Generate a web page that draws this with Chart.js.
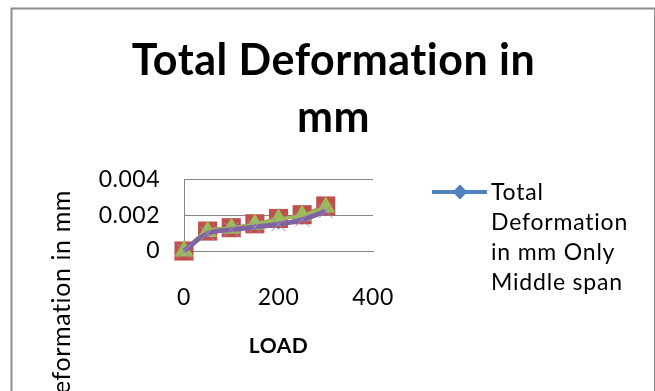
<!DOCTYPE html>
<html>
<head>
<meta charset="utf-8">
<script src="https://cdn.jsdelivr.net/npm/chart.js@4/dist/chart.umd.min.js"></script>
<style>
  html, body { margin: 0; padding: 0; background: #ffffff; overflow: hidden; }
  #c { display: block; }
</style>
</head>
<body>
<canvas id="c" width="655" height="391"></canvas>
<script>
// Load steps (x) and deformation readings (mm) for each span case
const loads = [0, 50, 100, 150, 200, 250, 300];
const middleSpan = [0, 0.00098, 0.0012, 0.00135, 0.0015, 0.00176, 0.00224];
const seriesB = [0, 0.00112, 0.00131, 0.00153, 0.00183, 0.00204, 0.00253];
const seriesC = [0, 0.00109, 0.00128, 0.0015, 0.00179, 0.002, 0.00246];
const seriesD = [0, 0.00098, 0.0012, 0.00135, 0.0015, 0.00176, 0.00224];

// Axis ticks and labels
const xTickValues = [0, 200, 400];
const xTickLabels = ['0', '200', '400'];
const yTickValues = [0, 0.002, 0.004];
const yTickLabels = ['0', '0.002', '0.004'];

// Text
const titleLines = ['Total Deformation in', 'mm'];
const xTitle = 'LOAD';
const yTitle = 'Deformation in mm';
const legendLines = ['Total', 'Deformation', 'in mm Only', 'Middle span'];

const FONT = 'Lato, "Open Sans", sans-serif';
const GRID = '#868686';
const BLUE = '#4F81BD', RED = '#C0504D', GREEN = '#9BBB59', PURPLE = '#8064A2';

const toPoints = (ys) => loads.map((x, i) => ({ x: x, y: ys[i] }));

// a little tracking keeps the text open and avoids the "ti" ligature
const setTracking = (ctx, px) => { if ('letterSpacing' in ctx) ctx.letterSpacing = px + 'px'; };

// Chart frame, rotated value-axis caption and the wrapped legend entry
const decorations = {
  id: 'decorations',
  beforeInit(chart) { setTracking(chart.ctx, 0.5); },
  beforeUpdate(chart) { setTracking(chart.ctx, 0.5); },
  beforeDraw(chart) {
    const ctx = chart.ctx;
    ctx.save();
    ctx.fillStyle = '#ffffff';
    ctx.fillRect(0, 0, chart.width, chart.height);
    ctx.strokeStyle = '#8c8c8c';
    ctx.lineWidth = 2;
    ctx.strokeRect(11.5, 8.5, 643.5, 500);
    ctx.restore();
    setTracking(ctx, 0.5);
  },
  afterDraw(chart) {
    const ctx = chart.ctx;
    ctx.save();
    // value axis caption
    ctx.translate(70, 190);
    ctx.rotate(-Math.PI / 2);
    ctx.font = '25px ' + FONT;
    setTracking(ctx, 0.6);
    ctx.fillStyle = '#000000';
    ctx.textAlign = 'right';
    ctx.textBaseline = 'alphabetic';
    ctx.fillText(yTitle, 0, 0);
    ctx.restore();

    // legend entry
    ctx.save();
    ctx.strokeStyle = BLUE;
    ctx.lineWidth = 4;
    ctx.beginPath();
    ctx.moveTo(432, 192);
    ctx.lineTo(487, 192);
    ctx.stroke();
    ctx.fillStyle = BLUE;
    ctx.beginPath();
    ctx.moveTo(460, 184.5);
    ctx.lineTo(467.5, 192);
    ctx.lineTo(460, 199.5);
    ctx.lineTo(452.5, 192);
    ctx.closePath();
    ctx.fill();
    ctx.font = '23px ' + FONT;
    setTracking(ctx, 0.8);
    ctx.fillStyle = '#000000';
    ctx.textAlign = 'left';
    ctx.textBaseline = 'alphabetic';
    legendLines.forEach((t, i) => ctx.fillText(t, 491, 199.5 + i * 30));
    ctx.restore();
  }
};

new Chart(document.getElementById('c'), {
  type: 'line',
  data: {
    datasets: [
      {
        label: legendLines.join(' '),
        data: toPoints(middleSpan),
        borderColor: BLUE, backgroundColor: BLUE,
        borderWidth: 3, tension: 0.4, clip: false,
        pointStyle: 'rectRot', pointRadius: 3,
        order: 4
      },
      {
        label: 'B',
        data: toPoints(seriesB),
        borderColor: RED, backgroundColor: RED,
        borderWidth: 3, tension: 0.4, clip: false,
        pointStyle: 'rect', pointRadius: 13.5, pointBorderWidth: 0,
        order: 3
      },
      {
        label: 'C',
        data: toPoints(seriesC),
        borderColor: GREEN, backgroundColor: GREEN,
        borderWidth: 3.5, tension: 0.4, clip: false,
        pointStyle: 'triangle', pointRadius: 11, pointBorderWidth: 0,
        order: 2
      },
      {
        label: 'D',
        data: toPoints(seriesD),
        borderColor: PURPLE, backgroundColor: PURPLE,
        borderWidth: 5, tension: 0.4, clip: false,
        pointStyle: 'crossRot', pointRadius: 10,
        pointBorderColor: '#9f8cc0', pointBorderWidth: 1,
        order: 1
      }
    ]
  },
  options: {
    responsive: false,
    animation: false,
    devicePixelRatio: 1,
    layout: { padding: { left: 12, right: 0, top: 0, bottom: 0 } },
    plugins: {
      legend: { display: false },
      tooltip: { enabled: false },
      title: {
        display: true,
        text: titleLines,
        color: '#000000',
        font: { family: FONT, size: 43, weight: 'bold', lineHeight: 1.335 },
        padding: { top: 32, bottom: 33 }
      }
    },
    scales: {
      x: {
        type: 'linear',
        position: 'bottom',
        min: 0, max: 400,
        afterBuildTicks: (s) => { s.ticks = xTickValues.map(v => ({ value: v })); },
        afterFit: (s) => { s.height = 140; },
        ticks: {
          callback: (v) => xTickLabels[xTickValues.indexOf(v)],
          color: '#000000',
          font: { family: FONT, size: 23 },
          padding: 33,
          maxRotation: 0
        },
        grid: { display: false, drawTicks: false },
        border: { display: true, color: GRID, width: 1 },
        title: {
          display: true,
          text: xTitle,
          color: '#000000',
          font: { family: FONT, size: 21, weight: 'bold' },
          padding: { top: 0, bottom: 32 }
        }
      },
      y: {
        type: 'linear',
        position: 'left',
        min: 0, max: 0.004,
        afterBuildTicks: (s) => { s.ticks = yTickValues.map(v => ({ value: v })); },
        afterFit: (s) => { s.width = 172; },
        ticks: {
          callback: (v) => yTickLabels[yTickValues.indexOf(v)],
          color: '#000000',
          font: { family: FONT, size: 23 },
          padding: 24
        },
        grid: { color: GRID, lineWidth: 1, drawTicks: false },
        border: { display: true, color: GRID, width: 1 }
      },
      legendSpace: {
        type: 'linear',
        position: 'right',
        display: true,
        afterFit: (s) => { s.width = 282; },
        ticks: { display: false },
        grid: { display: false, drawTicks: false },
        border: { display: false }
      }
    }
  },
  plugins: [decorations]
});
</script>
</body>
</html>
